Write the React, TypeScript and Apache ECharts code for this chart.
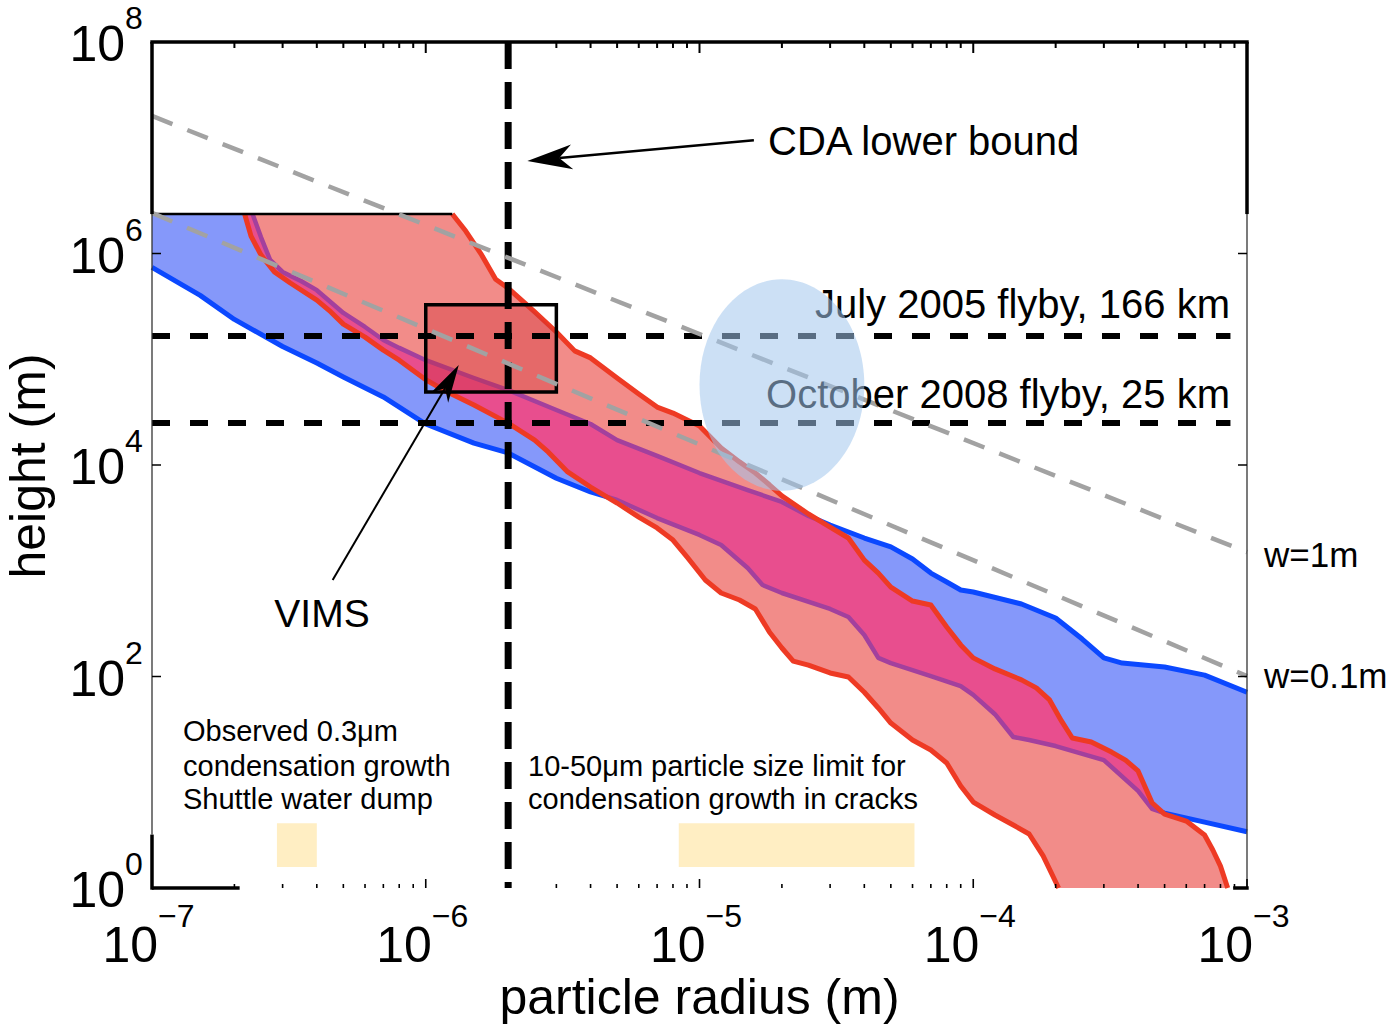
import React, { useEffect, useRef } from 'react';
import * as echarts from 'echarts';

type Pt = [number, number];

// ---- axes ----
const xRange = [1e-7, 1e-3];
const yRange = [1, 1e8];
const xDecades = [1e-7, 1e-6, 1e-5, 1e-4, 1e-3];
const xExponents = ['−7', '−6', '−5', '−4', '−3'];
const yDecades = [1, 1e2, 1e4, 1e6, 1e8];
const yExponents = ['0', '2', '4', '6', '8'];
const minorMultipliers = [2, 3, 4, 5, 6, 7, 8, 9];

// ---- bands (particle radius m, height m) ----
const capHeight = 2.36e6;

const blueUpper: Pt[] = [
  [2.33e-7, 2.36e6], [2.5e-7, 1.43e6], [2.7e-7, 8.7e5], [3e-7, 6.7e5], [3.5e-7, 5.5e5], [4e-7, 4.5e5],
  [5e-7, 2.74e5], [6e-7, 2.02e5], [7e-7, 1.52e5], [8e-7, 1.28e5], [1e-6, 9.8e4], [1.5e-6, 6.65e4],
  [2e-6, 5.1e4], [3e-6, 3.31e4], [4e-6, 2.44e4], [5e-6, 1.72e4], [7e-6, 1.22e4], [1e-5, 8.4e3],
  [1.5e-5, 5.8e3], [2e-5, 4.47e3], [2.5e-5, 3.3e3], [3e-5, 2.71e3], [4e-5, 2.04e3], [5e-5, 1.68e3],
  [6e-5, 1.29e3], [7e-5, 950], [8e-5, 783], [9e-5, 658], [1e-4, 630], [1.5e-4, 485], [2e-4, 357],
  [2.5e-4, 226], [3e-4, 150], [3.5e-4, 134], [5e-4, 123], [7e-4, 103], [1e-3, 71],
];

const blueLower: Pt[] = [
  [1e-7, 7.4e5], [1.5e-7, 4.02e5], [2e-7, 2.38e5], [3e-7, 1.32e5], [4e-7, 9.2e4], [5e-7, 6.8e4],
  [7e-7, 4.4e4], [1e-6, 2.44e4], [1.5e-6, 1.61e4], [2e-6, 1.3e4], [3e-6, 7.5e3], [4e-6, 5.56e3],
  [5e-6, 4.67e3], [7e-6, 3.15e3], [1e-5, 2.18e3], [1.2e-5, 1.75e3], [1.5e-5, 1.06e3], [1.7e-5, 733],
  [2e-5, 616], [3e-5, 435], [3.5e-5, 365], [4e-5, 247], [4.5e-5, 150], [5e-5, 134], [7e-5, 101],
  [9e-5, 81], [1e-4, 67], [1.2e-4, 44], [1.4e-4, 26.8], [1.6e-4, 25.1], [2e-4, 22], [3e-4, 16.2],
  [4e-4, 8.3], [4.5e-4, 5.6], [5e-4, 5.1], [7e-4, 4.2], [1e-3, 3.4],
];

const redUpper: Pt[] = [
  [1.25e-6, 2.36e6], [1.4e-6, 1.63e6], [1.6e-6, 9.7e5], [1.8e-6, 5.7e5], [2e-6, 4.7e5], [2.5e-6, 2.8e5],
  [3e-6, 1.81e5], [3.5e-6, 1.2e5], [4e-6, 1.03e5], [5e-6, 6.65e4], [6e-6, 4.7e4], [7e-6, 3.53e4],
  [8e-6, 3.1e4], [1e-5, 2.34e4], [1.2e-5, 1.45e4], [1.4e-5, 1.07e4], [1.6e-5, 8.4e3], [1.8e-5, 6.5e3],
  [2e-5, 5.1e3], [2.5e-5, 3.44e3], [3e-5, 2.59e3], [3.5e-5, 2.04e3], [4e-5, 1.26e3], [4.5e-5, 950],
  [5e-5, 700], [6e-5, 517], [7e-5, 475], [8e-5, 294], [9e-5, 199], [1e-4, 150], [1.2e-4, 118],
  [1.5e-4, 93], [1.7e-4, 78], [1.9e-4, 60], [2.1e-4, 38], [2.3e-4, 26.2], [2.7e-4, 24], [3.2e-4, 19.3],
  [3.6e-4, 16.2], [4e-4, 12.8], [4.5e-4, 6.4], [5e-4, 5.0], [6e-4, 4.3], [7e-4, 3.17], [7.5e-4, 2.29],
  [8e-4, 1.61], [8.5e-4, 1],
];

const redLower: Pt[] = [
  [2.18e-7, 2.36e6], [2.3e-7, 1.46e6], [2.5e-7, 9.7e5], [2.8e-7, 6.7e5], [3.2e-7, 5.26e5], [4e-7, 3.63e5],
  [4.5e-7, 2.8e5], [5e-7, 2.15e5], [6e-7, 1.62e5], [7e-7, 1.22e5], [8e-7, 9.8e4], [1e-6, 6.4e4],
  [1.2e-6, 4.9e4], [1.5e-6, 3.69e4], [2e-6, 2.49e4], [2.5e-6, 1.72e4], [2.8e-6, 1.33e4], [3.3e-6, 8.6e3],
  [4e-6, 6.19e3], [5e-6, 4.37e3], [6e-6, 3.22e3], [7e-6, 2.54e3], [8e-6, 1.95e3], [9e-6, 1.35e3],
  [1.05e-5, 818], [1.2e-5, 616], [1.4e-5, 529], [1.6e-5, 435], [1.8e-5, 264], [2e-5, 186], [2.2e-5, 140],
  [2.5e-5, 128], [3e-5, 108], [3.5e-5, 99], [4e-5, 71], [4.5e-5, 50.4], [5e-5, 36.3], [6e-5, 25.1],
  [7e-5, 20.2], [8e-5, 15.2], [9e-5, 9.22], [1e-4, 6.5], [1.2e-4, 4.9], [1.4e-4, 3.94], [1.6e-4, 3.24],
  [1.8e-4, 2.01], [2.05e-4, 1],
];

// ---- reference lines & annotations ----
const flybyHeights = [1.66e5, 2.5e4];
const flybyRadiusExtent = [1e-7, 8.7e-4];
const cdaRadius = 2e-6;
const line1m: Pt[] = [[1e-7, 2.0e7], [1e-3, 1.5e3]];
const line01m: Pt[] = [[1e-7, 2.42e6], [1e-3, 101]];
const vimsRadius = [1e-6, 3e-6];
const vimsHeight = [4.9e4, 3.27e5];
const ellipseRadius = [1e-5, 4e-5];
const ellipseHeight = [5.7e3, 5.7e5];
const shuttleRadius = [2.86e-7, 4.0e-7];
const cracksRadius = [8.4e-6, 6.1e-5];
const growthHeight = [1.58, 4.1];
const cdaArrow: Pt[] = [[1.58e-5, 1.18e7], [2.35e-6, 7.5e6]];
const vimsArrow: Pt[] = [[4.57e-7, 818], [1.32e-6, 8.83e4]];
// partial frame pieces
const frameLeftThickBelow = 3.2;
const frameBottomThickEnd = 2.09e-7;
const frameBottomRightStart = 8.9e-4;

const FONT = '"Liberation Sans", Arial, Helvetica, sans-serif';
const BLUE_FILL = '#8598fa';
const BLUE_LINE = '#0b48ff';
const RED_FILL = '#f28c89';
const RED_LINE = '#ee3a24';
const MAGENTA = '#e84e8e';
const PURPLE = '#a3409d';

function txt(text: string, x: number, y: number, size: number, align: string, extra: any = {}) {
  return {
    type: 'text',
    x,
    y,
    ...extra,
    style: {
      text,
      font: `${size}px ${FONT}`,
      fill: '#000',
      align,
      verticalAlign: 'middle',
      textAlign: align,
      textVerticalAlign: 'middle',
    },
  };
}

function seg(a: number[], b: number[], lw: number, stroke = '#000', dash?: number[]) {
  return {
    type: 'line',
    shape: { x1: a[0], y1: a[1], x2: b[0], y2: b[1] },
    style: { stroke, lineWidth: lw, lineDash: dash, fill: 'none' },
  };
}

function arrow(from: number[], tip: number[], len: number, half: number, notch: number, lw: number) {
  const dx = tip[0] - from[0];
  const dy = tip[1] - from[1];
  const L = Math.hypot(dx, dy);
  const ux = dx / L, uy = dy / L;
  const nx = -uy, ny = ux;
  const bx = tip[0] - ux * len, by = tip[1] - uy * len;
  const np = [tip[0] - ux * notch, tip[1] - uy * notch];
  return [
    seg(from, np, lw),
    {
      type: 'polygon',
      shape: { points: [tip, [bx + nx * half, by + ny * half], np, [bx - nx * half, by - ny * half]] },
      style: { fill: '#000' },
    },
  ];
}

function renderItem(_params: any, api: any) {
  const c = (p: Pt | number[]) => api.coord(p) as number[];
  const pts = (arr: Pt[]) => arr.map((p) => c(p));
  const [x0, y0] = c([xRange[0], yRange[1]]);
  const [x1, y1] = c([xRange[1], yRange[0]]);
  const capY = c([xRange[0], capHeight])[1];
  const ch: any[] = [];

  const rectOf = (xr: number[], yr: number[]) => {
    const a = c([xr[0], yr[1]]);
    const b = c([xr[1], yr[0]]);
    return { x: a[0], y: a[1], width: b[0] - a[0], height: b[1] - a[1] };
  };

  // condensation growth bars
  ch.push({ type: 'rect', shape: rectOf(shuttleRadius, growthHeight), style: { fill: '#ffeec3' } });
  ch.push({ type: 'rect', shape: rectOf(cracksRadius, growthHeight), style: { fill: '#ffeec3' } });

  const bluePoly = [c([xRange[0], capHeight]), ...pts(blueUpper), ...pts([...blueLower].reverse())];
  const redPoly = [...pts(redUpper), ...pts([...redLower].reverse())];

  // blue band
  ch.push({ type: 'polygon', shape: { points: bluePoly }, style: { fill: BLUE_FILL } });
  ch.push({ type: 'polyline', shape: { points: pts(blueUpper) }, style: { stroke: BLUE_LINE, lineWidth: 5, fill: 'none', lineJoin: 'round' } });
  ch.push({ type: 'polyline', shape: { points: pts(blueLower) }, style: { stroke: BLUE_LINE, lineWidth: 5, fill: 'none', lineJoin: 'round' } });
  // red band
  ch.push({ type: 'polygon', shape: { points: redPoly }, style: { fill: RED_FILL } });
  // overlap
  ch.push({
    type: 'polygon',
    shape: { points: redPoly },
    style: { fill: MAGENTA },
    clipPath: { type: 'polygon', shape: { points: bluePoly } },
  });
  // blue edges seen through red
  ch.push({
    type: 'polyline', shape: { points: pts(blueUpper) },
    style: { stroke: PURPLE, lineWidth: 4.5, fill: 'none', lineJoin: 'round' },
    clipPath: { type: 'polygon', shape: { points: redPoly } },
  });
  ch.push({
    type: 'polyline', shape: { points: pts(blueLower) },
    style: { stroke: PURPLE, lineWidth: 4.5, fill: 'none', lineJoin: 'round' },
    clipPath: { type: 'polygon', shape: { points: redPoly } },
  });
  ch.push({ type: 'polyline', shape: { points: pts(redUpper) }, style: { stroke: RED_LINE, lineWidth: 5, fill: 'none', lineJoin: 'round' } });
  ch.push({ type: 'polyline', shape: { points: pts(redLower) }, style: { stroke: RED_LINE, lineWidth: 5, fill: 'none', lineJoin: 'round' } });
  // cap line
  ch.push(seg([x0, capY], c(redUpper[0]), 2.5));

  // VIMS box
  const vr = rectOf(vimsRadius, vimsHeight);
  ch.push({
    type: 'rect', shape: vr, style: { fill: 'rgba(205,45,50,0.36)' },
    clipPath: { type: 'polygon', shape: { points: redPoly } },
  });
  ch.push({ type: 'rect', shape: vr, style: { fill: 'none', stroke: '#000', lineWidth: 3.5 } });

  // flyby heights
  flybyHeights.forEach((h) => {
    ch.push(seg(c([flybyRadiusExtent[0], h]), c([flybyRadiusExtent[1], h]), 6, '#000', [18, 20]));
  });
  // CDA lower bound
  ch.push(seg(c([cdaRadius, yRange[1]]), c([cdaRadius, yRange[0]]), 7, '#000', [27, 13]));
  // width lines
  ch.push(seg(c(line1m[0]), c(line1m[1]), 4.5, '#a2a2a2', [22, 16]));
  ch.push(seg(c(line01m[0]), c(line01m[1]), 4.5, '#a2a2a2', [22, 16]));

  // arrows
  ch.push(...arrow(c(cdaArrow[0]), c(cdaArrow[1]), 45, 12.5, 32, 2.5));
  ch.push(...arrow(c(vimsArrow[0]), c(vimsArrow[1]), 38, 10, 27, 2));

  // annotation text
  ch.push(txt('CDA lower bound', 768, 141, 40, 'left'));
  ch.push(txt('July 2005 flyby, 166 km', 1230, 304, 40, 'right'));
  ch.push(txt('October 2008 flyby, 25 km', 1230, 394, 40, 'right'));
  ch.push(txt('w=1m', 1264, 554, 35, 'left'));
  ch.push(txt('w=0.1m', 1264, 675, 35, 'left'));
  ch.push(txt('VIMS', 322, 613, 39, 'center'));
  ch.push(txt('Observed 0.3μm', 183, 731, 29, 'left'));
  ch.push(txt('condensation growth', 183, 766, 29, 'left'));
  ch.push(txt('Shuttle water dump', 183, 799, 29, 'left'));
  ch.push(txt('10-50μm particle size limit for', 528, 766, 29, 'left'));
  ch.push(txt('condensation growth in cracks', 528, 799, 29, 'left'));

  // plume ellipse
  const eA = c([ellipseRadius[0], ellipseHeight[1]]);
  const eB = c([ellipseRadius[1], ellipseHeight[0]]);
  ch.push({
    type: 'ellipse',
    shape: { cx: (eA[0] + eB[0]) / 2, cy: (eA[1] + eB[1]) / 2, rx: (eB[0] - eA[0]) / 2, ry: (eB[1] - eA[1]) / 2 },
    style: { fill: 'rgba(163,199,236,0.55)' },
  });

  // frame
  const yThick = c([xRange[0], frameLeftThickBelow])[1];
  const xBottomEnd = c([frameBottomThickEnd, yRange[0]])[0];
  const xBottomRight = c([frameBottomRightStart, yRange[0]])[0];
  ch.push(seg([x0 - 1.7, y0], [x1 + 1.7, y0], 3.5));
  ch.push(seg([x0, y0], [x0, capY], 3.5));
  ch.push(seg([x0, capY], [x0, yThick], 1.3, '#333'));
  ch.push(seg([x0, yThick], [x0, y1 + 1.7], 3.5));
  ch.push(seg([x0, y1], [xBottomEnd, y1], 3.5));
  ch.push(seg([x1, y0], [x1, capY], 3.5));
  ch.push(seg([x1, capY], [x1, y1], 1.3, '#333'));
  ch.push(seg([xBottomRight, y1], [x1 + 1.7, y1], 3.5));

  // ticks
  yDecades.forEach((v) => {
    const y = c([xRange[0], v])[1];
    ch.push(seg([x0, y], [x0 + 9, y], 1.5));
    ch.push(seg([x1 - 9, y], [x1, y], 1.5));
  });
  xDecades.forEach((d, i) => {
    const x = c([d, yRange[0]])[0];
    ch.push(seg([x, y0], [x, y0 + 11], 2));
    ch.push(seg([x, y1], [x, y1 - 9], 1.6));
    if (i < xDecades.length - 1) {
      minorMultipliers.forEach((m) => {
        const xm = c([d * m, yRange[0]])[0];
        ch.push(seg([xm, y0], [xm, y0 + 6], 2));
        ch.push(seg([xm, y1], [xm, y1 - 4], 1.6));
      });
    }
  });

  // tick labels
  xDecades.forEach((d, i) => {
    const x = c([d, yRange[0]])[0];
    ch.push(txt('10', x + 6, y1 + 57, 50, 'right'));
    ch.push(txt(xExponents[i], x + 6, y1 + 28, 32, 'left'));
  });
  yDecades.forEach((v, i) => {
    const y = c([xRange[0], v])[1];
    ch.push(txt('10', x0 - 27, y + 2, 50, 'right'));
    ch.push(txt(yExponents[i], x0 - 27, y - 24, 32, 'left'));
  });

  // axis titles
  ch.push(txt('particle radius (m)', (x0 + x1) / 2, y1 + 109, 50, 'center'));
  ch.push(txt('height (m)', 28, (y0 + y1) / 2 + 1, 50, 'center', { rotation: Math.PI / 2 }));

  return { type: 'group', children: ch };
}

export default function App() {
  const ref = useRef<HTMLDivElement>(null);
  useEffect(() => {
    if (!ref.current) return;
    const chart = echarts.init(ref.current, undefined, { renderer: 'svg' });
    const hidden = {
      axisLine: { show: false },
      axisTick: { show: false },
      axisLabel: { show: false },
      splitLine: { show: false },
      minorTick: { show: false },
    };
    chart.setOption({
      animation: false,
      backgroundColor: '#fff',
      grid: { left: 152, right: 153, top: 42, bottom: 139 },
      xAxis: { type: 'log', logBase: 10, min: xRange[0], max: xRange[1], ...hidden },
      yAxis: { type: 'log', logBase: 10, min: yRange[0], max: yRange[1], ...hidden },
      series: [
        {
          type: 'custom',
          coordinateSystem: 'cartesian2d',
          data: [[1e-5, 1e3]],
          encode: { x: 0, y: 1 },
          clip: false,
          silent: true,
          renderItem,
        },
      ],
    });
    return () => chart.dispose();
  }, []);
  return (
    <div
      ref={ref}
      style={{ position: 'fixed', left: 0, top: 0, width: 1400, height: 1027, background: '#fff' }}
    />
  );
}
